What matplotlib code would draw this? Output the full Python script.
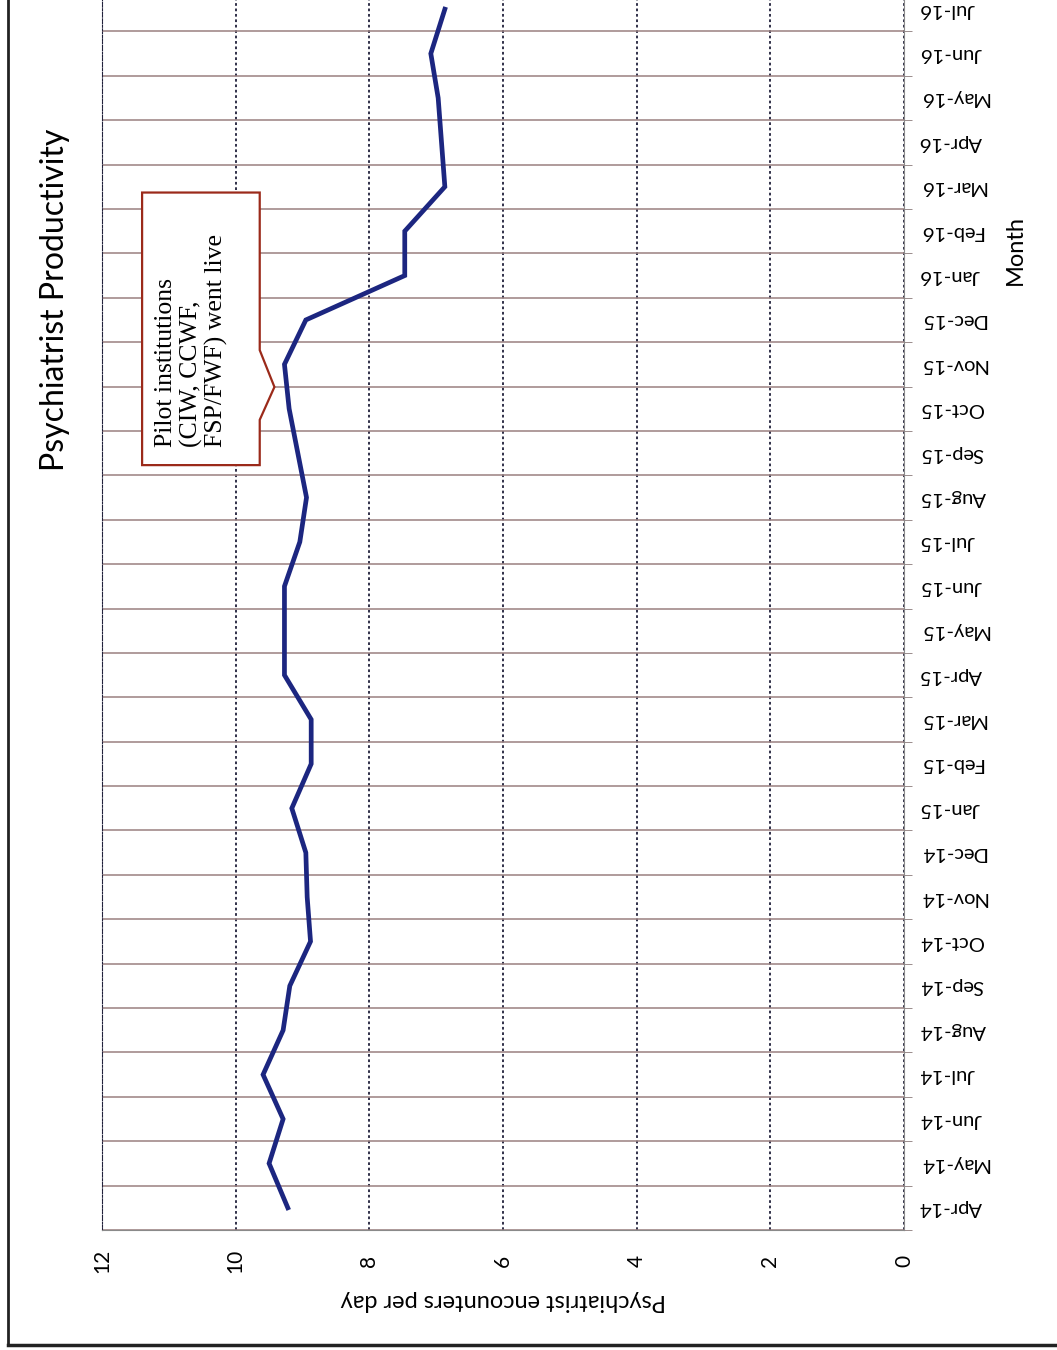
import numpy as np
import matplotlib
matplotlib.use("Agg")
import matplotlib.pyplot as plt
from matplotlib.patches import Polygon
from matplotlib.lines import Line2D

# Data
months = ['Apr-14', 'May-14', 'Jun-14', 'Jul-14', 'Aug-14', 'Sep-14', 'Oct-14',
          'Nov-14', 'Dec-14', 'Jan-15', 'Feb-15', 'Mar-15', 'Apr-15', 'May-15',
          'Jun-15', 'Jul-15', 'Aug-15', 'Sep-15', 'Oct-15', 'Nov-15', 'Dec-15',
          'Jan-16', 'Feb-16', 'Mar-16', 'Apr-16', 'May-16', 'Jun-16', 'Jul-16']
encounters = [9.22, 9.50, 9.29, 9.59, 9.29, 9.19, 8.88, 8.93, 8.95, 9.16,
              8.87, 8.87, 9.27, 9.27, 9.27, 9.04, 8.94, 9.07, 9.20, 9.27,
              8.95, 7.47, 7.47, 6.87, 6.92, 6.97, 7.08, 6.87]
value_ticks = [0, 2, 4, 6, 8, 10, 12]
note = 'Pilot institutions\n(CIW, CCWF,\nFSP/FWF) went live'
note_month = 'Oct-15'

sans = ['Lato', 'DejaVu Sans']
plt.rcParams['font.family'] = sans

fig = plt.figure(figsize=(10.57, 13.5), dpi=100)
# the page is scanned sideways: value axis runs horizontally, months vertically
ax = fig.add_axes([102 / 1057, 1 - 1230 / 1350, 802 / 1057, 1243 / 1350])

idx = np.arange(len(months))
ax.plot(encounters, idx, color='#1c2680', lw=3.4, solid_joinstyle='miter', zorder=4)

ax.set_xlim(12, 0)
ax.set_ylim(-0.5, len(months) - 0.5)

ax.set_xticks(value_ticks)
ax.set_xticklabels([str(v) for v in value_ticks], rotation=90, fontsize=15,
                   va='center')
ax.tick_params(axis='x', length=0, pad=22)

ax.yaxis.tick_right()
ax.set_yticks(idx)
ax.set_yticklabels(months, rotation=180, fontsize=14.5, ha='left', va='center')
ax.tick_params(axis='y', which='major', length=0, pad=11)
ax.set_yticks(np.arange(-0.5, len(months)), minor=True)
ax.tick_params(axis='y', which='minor', length=6, color='#8a7a7a', direction='out')

ax.grid(axis='x', which='major', color='#20203a', ls=(0, (1.5, 1.5)), lw=1.3)
ax.grid(axis='y', which='minor', color='#9a8080', ls='-', lw=1.1)
ax.set_axisbelow(True)

ax.spines['top'].set_visible(False)
ax.spines['left'].set_linestyle((0, (1.5, 1.5)))
ax.spines['left'].set_color('#20203a')
ax.spines['right'].set_color('#8a8a8a')
ax.spines['bottom'].set_color('#8a8a8a')

# callout box pointing at the go-live month
m = months.index(note_month)
box = Polygon([(11.40, m - 1.27), (11.40, m + 4.87), (9.64, m + 4.87),
               (9.64, m + 1.32), (9.42, m + 0.49), (9.64, m - 0.25),
               (9.64, m - 1.27)],
              closed=True, facecolor='white', edgecolor='#9b2a1a', lw=1.6,
              zorder=3)
ax.add_patch(box)
ax.text(11.20, m - 0.86, note, rotation=90, ha='left', va='bottom',
        multialignment='left', fontsize=18.5, family='Liberation Serif',
        linespacing=1.12, zorder=5)

fig.text(55 / 1057, 1 - 300 / 1350, 'Psychiatrist Productivity', rotation=90,
         ha='center', va='center', fontsize=23)
fig.text(503 / 1057, 1 - 1300 / 1350, 'Psychiatrist encounters per day',
         rotation=180, ha='center', va='center', fontsize=17)
fig.text(1015 / 1057, 1 - 250 / 1350, 'Month', rotation=90,
         ha='center', va='center', fontsize=17)

# border of the scanned page
fig.add_artist(Line2D([8 / 1057, 8 / 1057], [1, 1 - 1345 / 1350],
                      transform=fig.transFigure, color='#222222', lw=2))
fig.add_artist(Line2D([8 / 1057, 1], [1 - 1345 / 1350, 1 - 1345 / 1350],
                      transform=fig.transFigure, color='#222222', lw=2.5))

fig.savefig('out.png', dpi=100)
